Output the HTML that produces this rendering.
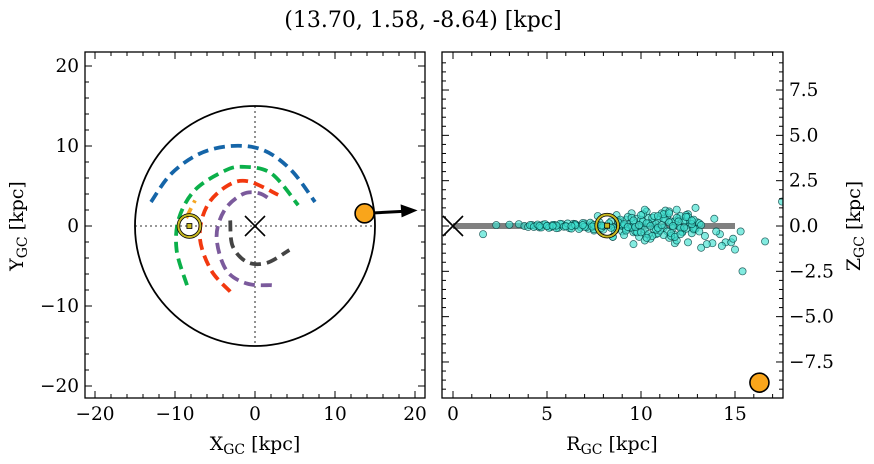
<!DOCTYPE html>
<html><head><meta charset="utf-8">
<style>
body{margin:0;background:#fff;}
svg{display:block;font-family:"DejaVu Serif","Liberation Serif",serif;}
</style></head>
<body>
<svg id="fig" width="874" height="464" viewBox="0 0 874 464">
<text x="423" y="27" font-size="22" text-anchor="middle">(13.70, 1.58, -8.64) [kpc]</text>
<g id="left"></g>
<g id="right"></g>
</svg>
<script>
// ---- data ----
const sunXY = [-8.2, 0];
const objXY = [13.70, 1.58];
const objRZ = [16.3, -8.64];
const sunRZ = [8.2, 0.02];
const diskRadius = 15;
const arcBlueX = [-13,-10.5,-7,-3,1,4.5,7.5];
const arcBlueY = [3,6.5,9,10,9.5,7,3];
const arcGreenX = [-8.5,-9.8,-9.5,-7.5,-4,-1.6,2,5.4];
const arcGreenY = [-7.4,-3,1,4.5,6.8,7.4,6.6,2.6];
const arcOrangeX = [-8.6,-7.5];
const arcOrangeY = [1,3.2];
const arcRedX = [-3.1,-5.5,-6.9,-6,-3.5,-0.9,2.9];
const arcRedY = [-8.2,-5.5,-1.4,2.5,5,5.6,3.9];
const arcPurpleX = [2.1,-1,-3.6,-4.8,-3.8,-1.5,0.5,1.8];
const arcPurpleY = [-7.4,-7.2,-5.5,-1.4,2,4,4.1,3.4];
const arcGrayX = [-3.1,-2.8,-1,1.5,4.3];
const arcGrayY = [0.7,-2.5,-4.5,-4.6,-3];
const xTicks = [-20,-10,0,10,20];
const yTicks = [-20,-10,0,10,20];
const rTicks = [0,5,10,15];
const zTicks = [-7.5,-5.0,-2.5,0.0,2.5,5.0,7.5];
const zTickLabels = ["\u22127.5","\u22125.0","\u22122.5","0.0","2.5","5.0","7.5"];
const starR = [1.6,2.3,3.0,3.5,3.8,4.0,4.2,4.4,4.6,4.8,5.0,5.2,5.4,5.6,5.8,6.0,6.2,6.4,6.6,6.8,7.0,7.2,7.4,7.6,7.8,8.0,8.4,8.6,8.8,9.0,9.2,9.4,9.6,9.8,10.0,10.2,10.4,10.6,10.8,11.0,11.2,11.4,11.6,11.8,12.0,12.2,12.4,12.6,12.8,13.0,
 8.7,9.1,9.5,9.9,10.3,10.7,11.1,11.5,11.9,12.3,12.7,13.1,8.9,9.3,9.7,10.1,10.5,10.9,11.3,11.7,12.1,12.5,12.9,
 9.0,9.6,10.2,10.8,11.4,12.0,12.6,9.4,10.0,10.6,11.2,11.8,12.4,13.2,
 7.7,8.5,10.2,10.2,11.8,12.5,13.2,13.8,14.5,14.8,15.4,16.6,17.5,13.9,15.3,14.2,14.0,12.9,11.5,10.9,11.9,9.6,8.5,7.5,6.5,13.5,14.9,15.0,14.3,13.4,
 4.1,4.3,4.5,4.7,4.9,5.1,5.3,5.5,5.7,5.9,6.1,6.3,6.5,6.7,6.9,7.1,7.3,7.5,7.7,7.9,
 5.0,5.5,6.0,6.5,7.0,7.5,8.0,8.5,9.0,9.5,4.6,5.3,6.3,6.9,7.4,7.9,
 8.3,8.6,8.9,9.2,9.5,9.8,10.1,10.4,10.7,11.0,11.3,11.6,11.9,12.2,12.5,12.8,
 8.4,8.8,9.2,9.6,10.0,10.4,10.8,11.2,11.6,12.0,12.4,12.8,13.1,
 9.1,9.7,10.3,10.9,11.5,12.1,12.7,9.3,9.9,10.5,11.1,11.7,12.3,
 10.0,10.6,11.2,11.8,12.4,10.3,10.9,11.5,12.1,12.7];
const starZ = [-0.45,0.05,0.07,0.1,0.0,-0.05,0.05,0.0,-0.08,0.08,0.02,-0.06,0.06,-0.1,0.1,0.0,-0.12,0.12,0.03,-0.08,0.15,-0.15,0.1,-0.05,0.2,-0.2,0.25,-0.1,0.3,-0.3,0.35,0.1,-0.35,0.4,0.0,-0.4,0.45,0.2,-0.45,0.5,-0.1,0.55,0.25,-0.5,0.4,-0.3,0.3,0.1,-0.2,0.2,
 0.6,-0.5,0.7,-0.6,0.8,-0.2,0.7,-0.65,0.9,0.3,-0.4,0.15,0.1,0.5,-0.3,0.65,-0.7,0.35,0.85,-0.1,0.55,0.65,-0.15,
 0.0,0.2,-0.2,0.1,-0.3,0.0,0.3,-0.1,0.35,0.45,-0.5,0.25,0.6,0.05,
 0.55,-0.6,0.9,-0.8,-0.95,-0.9,-1.2,-0.95,-0.9,-0.9,-2.5,-0.85,1.35,0.4,-0.3,-0.45,-0.3,1.0,0.8,-0.4,-0.8,-1.0,-0.6,-0.25,0.1,-1.0,-0.7,-1.3,-1.1,-0.55,
 0.05,-0.05,0.08,-0.08,0.1,-0.1,0.06,-0.12,0.12,-0.04,0.14,-0.14,0.1,-0.16,0.16,-0.06,0.18,-0.18,0.08,-0.1,
 0.0,0.02,-0.02,0.04,-0.04,0.06,0.0,-0.06,0.08,-0.08,0.0,0.0,0.0,0.05,-0.03,0.03,
 0.15,-0.25,0.35,-0.15,0.45,-0.35,0.25,-0.45,0.55,-0.25,0.35,-0.55,0.45,-0.35,0.5,-0.15,
 -0.1,0.2,-0.25,0.3,-0.35,0.15,-0.2,0.4,-0.4,0.25,-0.15,0.35,-0.3,
 0.1,-0.05,0.15,-0.1,0.2,-0.12,0.1,-0.05,0.05,0.0,0.05,0.0,-0.08,
 0.6,-0.55,0.65,-0.6,0.5,-0.65,0.55,0.7,-0.45,0.3];

const NS="http://www.w3.org/2000/svg";
function mk(parent,tag,attrs){const e=document.createElementNS(NS,tag);for(const k in attrs)e.setAttribute(k,attrs[k]);parent.appendChild(e);return e;}
function smoothPath(px,py){
  let d='M'+px[0].toFixed(1)+' '+py[0].toFixed(1);
  for(let i=0;i<px.length-1;i++){
    const x0=px[Math.max(i-1,0)],y0=py[Math.max(i-1,0)],x1=px[i],y1=py[i],x2=px[i+1],y2=py[i+1],x3=px[Math.min(i+2,px.length-1)],y3=py[Math.min(i+2,px.length-1)];
    d+=` C${(x1+(x2-x0)/6).toFixed(1)} ${(y1+(y2-y0)/6).toFixed(1)} ${(x2-(x3-x1)/6).toFixed(1)} ${(y2-(y3-y1)/6).toFixed(1)} ${x2.toFixed(1)} ${y2.toFixed(1)}`;
  }
  return d;
}

// ---- left panel ----
const L=document.getElementById('left');
const lx=v=>255+8*v, ly=v=>226-8*v;
let box=mk(L,'rect',{x:85,y:52,width:340,height:346,fill:'none',stroke:'#000','stroke-width':1.3});


for(let v=-21;v<=21;v++){
  const major=v%10===0, minor=v%2===0;
  if(!major && !minor) continue;
  const len=major?7:4;
  mk(L,'line',{x1:lx(v),x2:lx(v),y1:398,y2:398-len,stroke:'#000'});
  mk(L,'line',{x1:lx(v),x2:lx(v),y1:52,y2:52+len,stroke:'#000'});
  mk(L,'line',{y1:ly(v),y2:ly(v),x1:85,x2:85+len,stroke:'#000'});
  mk(L,'line',{y1:ly(v),y2:ly(v),x1:425,x2:425-len,stroke:'#000'});
}
xTicks.forEach(v=>{const t=mk(L,'text',{x:lx(v),y:420,'font-size':18.5,'text-anchor':'middle'});t.textContent=v<0?'\u2212'+(-v):v;
});
yTicks.forEach(v=>{const t=mk(L,'text',{x:79,y:ly(v)+6,'font-size':18.5,'text-anchor':'end'});t.textContent=v<0?'\u2212'+(-v):v;
});
let xt=mk(L,'text',{x:255,y:450,'font-size':19,'text-anchor':'middle'});xt.innerHTML='X<tspan font-size="14" dy="4">GC</tspan><tspan dy="-4"> [kpc]</tspan>';

let yt=mk(L,'text',{x:0,y:0,'font-size':19,'text-anchor':'middle',transform:'translate(23,226) rotate(-90)'});yt.innerHTML='Y<tspan font-size="14" dy="4">GC</tspan><tspan dy="-4"> [kpc]</tspan>';

mk(L,'line',{x1:lx(-15),x2:lx(15),y1:ly(0),y2:ly(0),stroke:'#777','stroke-width':1.6,'stroke-dasharray':'2 3'});
mk(L,'line',{x1:lx(0),x2:lx(0),y1:ly(15),y2:ly(-15),stroke:'#777','stroke-width':1.6,'stroke-dasharray':'2 3'});
let disk=mk(L,'circle',{cx:lx(0),cy:ly(0),r:8*diskRadius,fill:'none',stroke:'#000','stroke-width':1.8});

function arc(xs,ys,col,name){
  const p=mk(L,'path',{d:smoothPath(xs.map(lx),ys.map(ly)),fill:'none',stroke:col,'stroke-width':3.8,'stroke-dasharray':'11 6'});
  
}
arc(arcBlueX,arcBlueY,'#1565a8','spiral-arm-blue');
arc(arcGreenX,arcGreenY,'#0bb04a','spiral-arm-green');
arc(arcOrangeX,arcOrangeY,'#f5a623','spiral-arm-orange');
arc(arcRedX,arcRedY,'#f2380f','spiral-arm-red');
arc(arcPurpleX,arcPurpleY,'#7b5a9c','spiral-arm-purple');
arc(arcGrayX,arcGrayY,'#444','spiral-arm-gray');
let gcx=mk(L,'path',{d:`M${lx(0)-10} ${ly(0)-10}L${lx(0)+10} ${ly(0)+10}M${lx(0)-10} ${ly(0)+10}L${lx(0)+10} ${ly(0)-10}`,stroke:'#000','stroke-width':1.6});

let sun=mk(L,'g',{});
mk(sun,'circle',{cx:lx(sunXY[0]),cy:ly(sunXY[1]),r:11,fill:'none',stroke:'#000','stroke-width':3.5});
mk(sun,'circle',{cx:lx(sunXY[0]),cy:ly(sunXY[1]),r:11,fill:'none',stroke:'#c8b820','stroke-width':2});
mk(sun,'rect',{x:lx(sunXY[0])-2.5,y:ly(sunXY[1])-2.5,width:5,height:5,fill:'#c8b820',stroke:'#000','stroke-width':0.8});
let arr=mk(L,'g',{});
const ax=lx(objXY[0]),ay=ly(objXY[1]);
mk(arr,'line',{x1:ax,y1:ay,x2:ax+38,y2:ay-2,stroke:'#000','stroke-width':3});
mk(arr,'path',{d:`M${ax+53} ${ay-3}L${ax+36} ${ay-9}L${ax+37} ${ay+4}Z`,fill:'#000'});
let ob=mk(L,'circle',{cx:ax,cy:ay,r:9.5,fill:'#f9a51b',stroke:'#000','stroke-width':1.6});


// ---- right panel ----
const R=document.getElementById('right');
const rx=v=>453+18.8*v, rz=v=>226-18.13*v;
const cp=mk(R,'clipPath',{id:'rc'});mk(cp,'rect',{x:442,y:52,width:341,height:346});
const inner=mk(R,'g',{'clip-path':'url(#rc)'});
for(let v=0;v<=17.5;v+=1){
  const major=v%5===0,len=major?7:4;
  mk(R,'line',{x1:rx(v),x2:rx(v),y1:398,y2:398-len,stroke:'#000'});
  mk(R,'line',{x1:rx(v),x2:rx(v),y1:52,y2:52+len,stroke:'#000'});
}
for(let v=-9;v<=9.01;v+=0.5){
  const major=Math.abs(v/2.5-Math.round(v/2.5))<1e-6,len=major?7:4;
  mk(R,'line',{y1:rz(v),y2:rz(v),x1:783,x2:783-len,stroke:'#000'});
  mk(R,'line',{y1:rz(v),y2:rz(v),x1:442,x2:442+len,stroke:'#000'});
}
rTicks.forEach(v=>{const t=mk(R,'text',{x:rx(v),y:420,'font-size':18.5,'text-anchor':'middle'});t.textContent=v;
});
zTicks.forEach((v,i)=>{const t=mk(R,'text',{x:789,y:rz(v)+6,'font-size':18.5,'text-anchor':'start'});t.textContent=zTickLabels[i];
});
let rt=mk(R,'text',{x:612,y:450,'font-size':19,'text-anchor':'middle'});rt.innerHTML='R<tspan font-size="14" dy="4">GC</tspan><tspan dy="-4"> [kpc]</tspan>';

let zt=mk(R,'text',{x:0,y:0,'font-size':19,'text-anchor':'middle',transform:'translate(860,226) rotate(-90)'});zt.innerHTML='Z<tspan font-size="14" dy="4">GC</tspan><tspan dy="-4"> [kpc]</tspan>';

let band=mk(inner,'line',{x1:rx(0),x2:rx(15),y1:rz(0),y2:rz(0),stroke:'#808080','stroke-width':6});

starR.forEach((r,i)=>{
  const c=mk(inner,'circle',{cx:rx(r),cy:rz(starZ[i]),r:3.6,fill:'rgba(64,224,208,0.65)',stroke:'rgba(0,60,60,0.8)','stroke-width':0.7});
  
  
});
let gx2=mk(inner,'path',{d:`M${rx(0)-10} ${rz(0)-10}L${rx(0)+10} ${rz(0)+10}M${rx(0)-10} ${rz(0)+10}L${rx(0)+10} ${rz(0)-10}`,stroke:'#000','stroke-width':1.6});

let sun2=mk(inner,'g',{});
mk(sun2,'circle',{cx:rx(sunRZ[0]),cy:rz(sunRZ[1]),r:11,fill:'none',stroke:'#000','stroke-width':3.5});
mk(sun2,'circle',{cx:rx(sunRZ[0]),cy:rz(sunRZ[1]),r:11,fill:'none',stroke:'#c8b820','stroke-width':2});
mk(sun2,'rect',{x:rx(sunRZ[0])-2.5,y:rz(sunRZ[1])-2.5,width:5,height:5,fill:'#c8b820',stroke:'#000','stroke-width':0.8});
let ob2=mk(inner,'circle',{cx:rx(objRZ[0]),cy:rz(objRZ[1]),r:9.5,fill:'#f9a51b',stroke:'#000','stroke-width':1.6});

let box2=mk(R,'rect',{x:442,y:52,width:341,height:346,fill:'none',stroke:'#000','stroke-width':1.3});

</script>
</body></html>
